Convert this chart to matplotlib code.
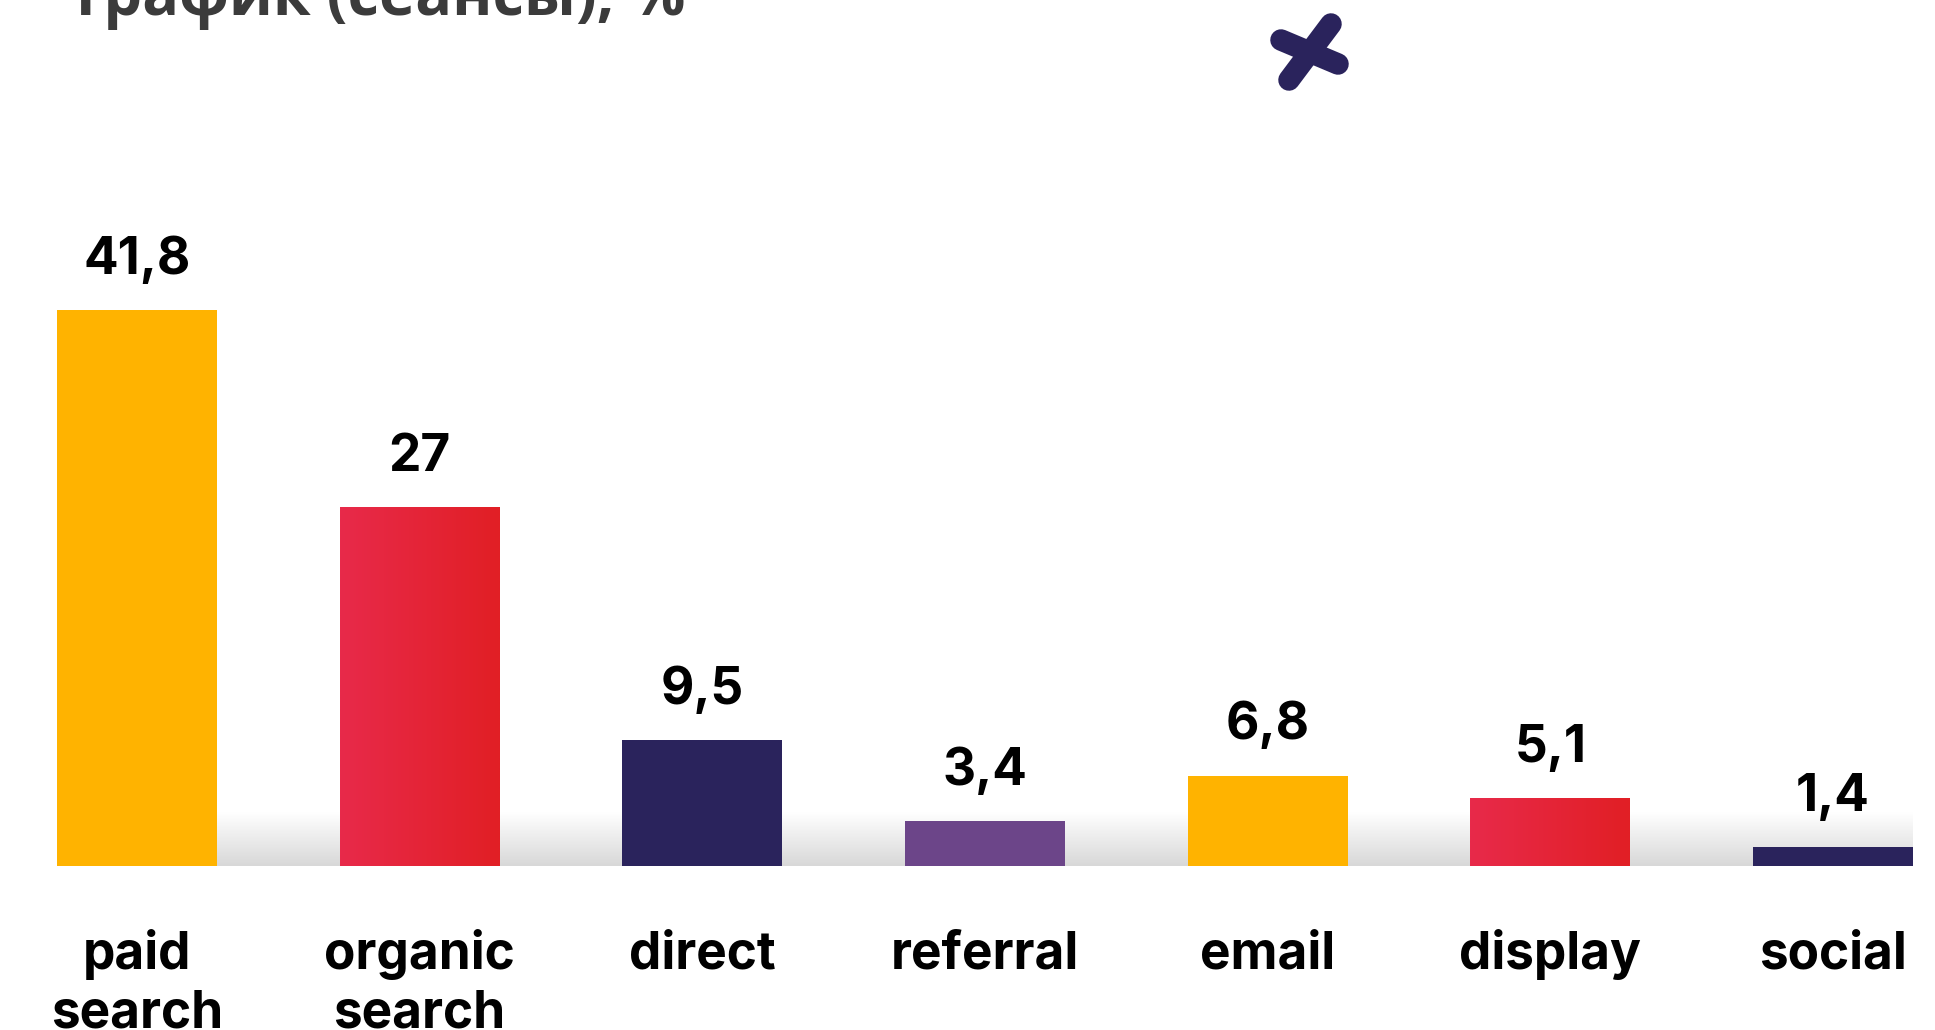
import numpy as np
import matplotlib
matplotlib.use("Agg")
import matplotlib.pyplot as plt
from matplotlib.colors import LinearSegmentedColormap
from matplotlib.lines import Line2D


categories = ["paid\nsearch", "organic\nsearch", "direct", "referral", "email", "display", "social"]
values = [41.8, 27, 9.5, 3.4, 6.8, 5.1, 1.4]
value_labels = ["41,8", "27", "9,5", "3,4", "6,8", "5,1", "1,4"]
bar_colors = ["#FFB300", "red", "#2A235C", "#6C4589", "#FFB300", "red", "#2A235C"]
title = "Трафик (сеансы), %"

W, H = 1935, 1030
fig = plt.figure(figsize=(W / 100, H / 100), dpi=100)
fig.patch.set_facecolor("white")

# axes placed in pixels: baseline at y=866, bars 57..1913
bar_w = 0.566
px_per_unit = 13.3
ymax = 45
ax = fig.add_axes([57 / W, (H - 866) / H, (1913 - 57) / W, ymax * px_per_unit / H])
ax.set_xlim(-bar_w / 2, len(values) - 1 + bar_w / 2)
ax.set_ylim(0, ymax)
ax.axis("off")

# light grey shading along the baseline (white on top, grey at the bottom)
band = np.linspace(0, 1, 100).reshape(-1, 1)
band_cmap = LinearSegmentedColormap.from_list("band", ["#FFFFFF", "#D8D8D8"])
ax.imshow(band, cmap=band_cmap, aspect="auto", zorder=0,
          extent=(-bar_w / 2, len(values) - 1 + bar_w / 2, 0, 54 / px_per_unit))

red_cmap = LinearSegmentedColormap.from_list("red", ["#E82A4A", "#E11F25"])
x = np.arange(len(values))
bars = ax.bar(x, values, width=bar_w, zorder=2)
for b, c in zip(bars, bar_colors):
    if c == "red":
        b.set_facecolor("none")
        grad = np.linspace(0, 1, 100).reshape(1, -1)
        im = ax.imshow(grad, cmap=red_cmap, aspect="auto", zorder=2,
                       extent=(b.get_x(), b.get_x() + b.get_width(), 0, b.get_height()))
        im.set_clip_path(b)
    else:
        b.set_facecolor(c)

font = dict(fontsize=37, fontweight="bold", family="Inter", color="black")

for xi, v, lab in zip(x, values, value_labels):
    ax.annotate(lab, xy=(xi, v), xytext=(0, 26), textcoords="offset points",
                ha="center", va="baseline", **font)

# category names, one line at a time (line step ~59 px)
for xi, cat in zip(x, categories):
    for k, line in enumerate(cat.split("\n")):
        ax.annotate(line, xy=(xi, 0), xytext=(0, -74 - 42.5 * k),
                    textcoords="offset points", ha="center", va="baseline",
                    annotation_clip=False, **font)

fig.text(68 / W, 1 - 15 / H, title, ha="left", va="baseline", fontsize=44,
         fontweight="bold", family="Open Sans", color="#3B3B3B")

# decorative cross
for (x0, y0), (x1, y1) in [((1281, 40), (1338, 64)), ((1331, 24), (1289, 80))]:
    fig.add_artist(Line2D([x0 / W, x1 / W], [1 - y0 / H, 1 - y1 / H],
                          transform=fig.transFigure, color="#2A235C",
                          linewidth=15.5, solid_capstyle="round"))

fig.savefig("out.png", dpi=100)
